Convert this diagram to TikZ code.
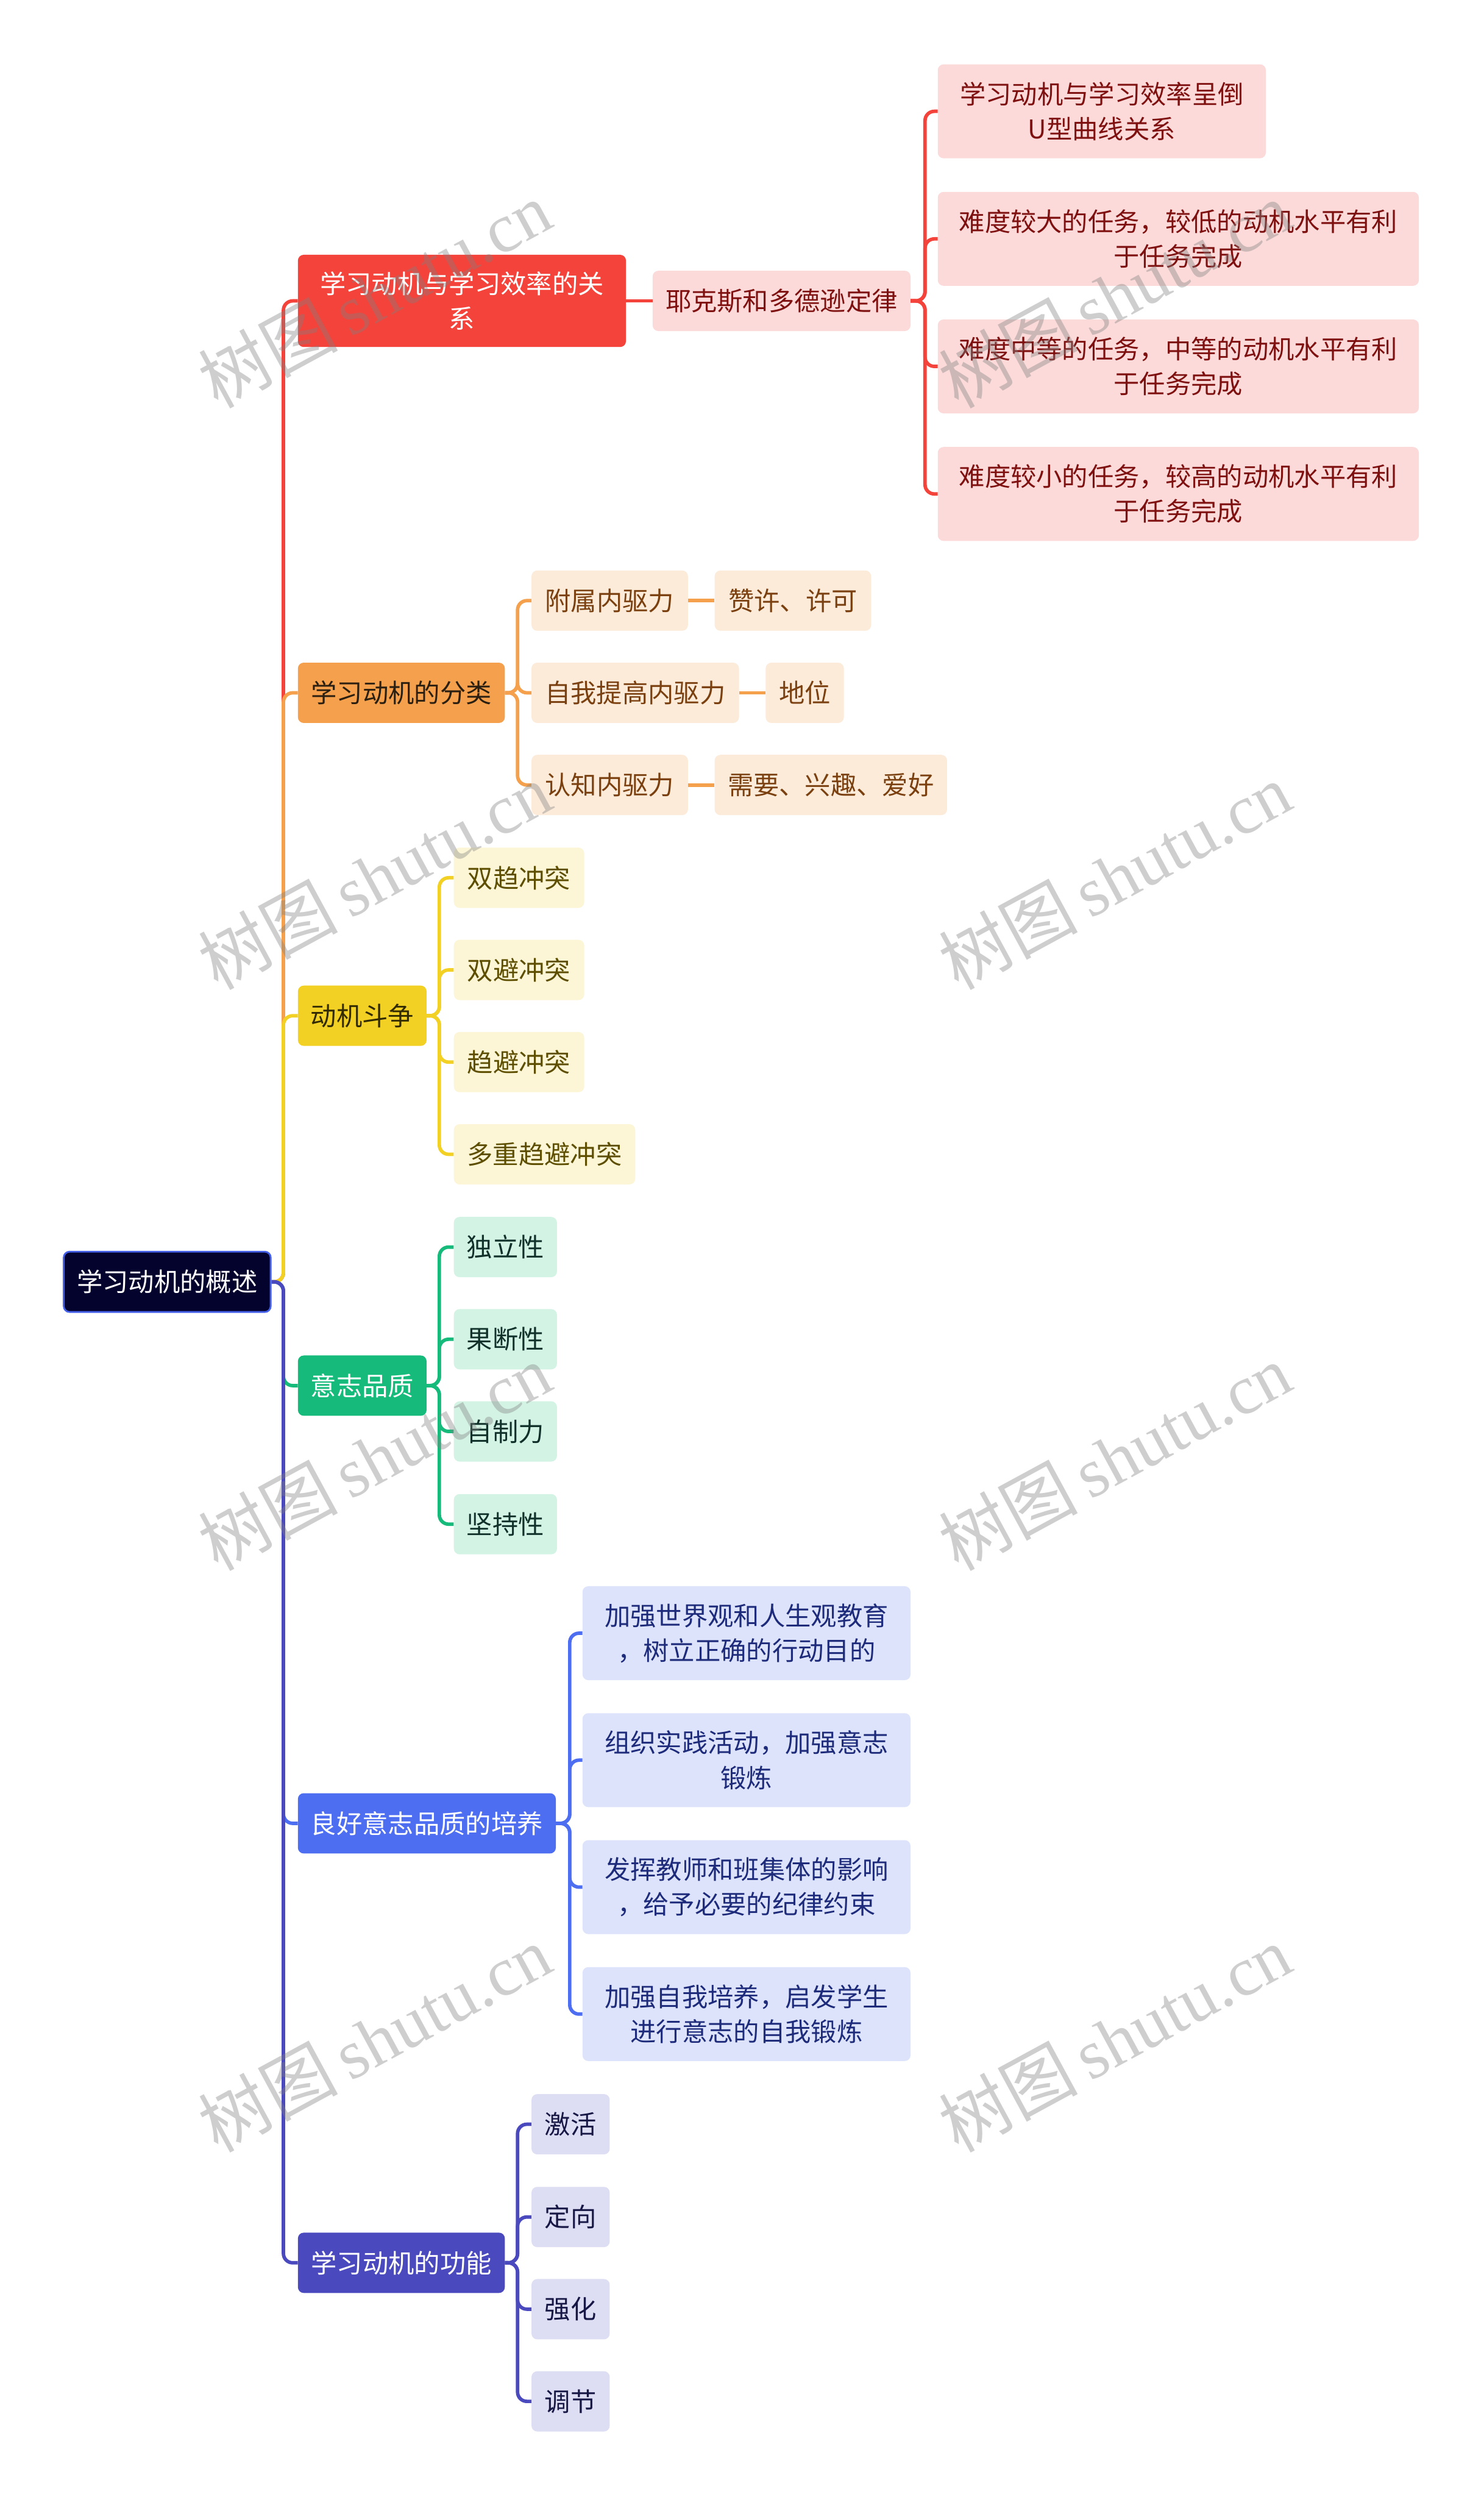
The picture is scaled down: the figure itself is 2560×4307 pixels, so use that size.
\documentclass[tikz,border=0pt]{standalone}
\usepackage{fontspec}
\newfontfamily\cjk{Noto Sans CJK SC}
\newfontfamily\wmserif{Liberation Serif}
\definecolor{cRed}{HTML}{F4433A}
\definecolor{cRedL}{HTML}{FCDADA}
\definecolor{cRedT}{HTML}{7F1010}
\definecolor{cOra}{HTML}{F4A04C}
\definecolor{cOraL}{HTML}{FDEBDA}
\definecolor{cOraT}{HTML}{7A4010}
\definecolor{cOraD}{HTML}{2A1F10}
\definecolor{cYel}{HTML}{F2D024}
\definecolor{cYelL}{HTML}{FCF6D6}
\definecolor{cYelT}{HTML}{5E4F00}
\definecolor{cYelD}{HTML}{332B00}
\definecolor{cGrn}{HTML}{16BB7B}
\definecolor{cGrnL}{HTML}{D3F3E5}
\definecolor{cGrnT}{HTML}{10302A}
\definecolor{cBlu}{HTML}{4E6EF2}
\definecolor{cBluL}{HTML}{DCE3FB}
\definecolor{cBluT}{HTML}{1D2B7A}
\definecolor{cInd}{HTML}{4B49BE}
\definecolor{cIndL}{HTML}{DDDDF3}
\definecolor{cIndT}{HTML}{171745}
\definecolor{cRoot}{HTML}{03032E}
\definecolor{cRootB}{HTML}{4460E8}
\tikzset{
  nd/.style={rounded corners=10pt, inner sep=0pt, align=center, font=\cjk\fontsize{44.5}{60}\selectfont},
  one/.style={nd, minimum height=104pt},
  two/.style={nd, minimum height=162pt},
  conn/.style={line width=6pt, rounded corners=16pt},
  wm/.style={rotate=28.5, text=gray, opacity=0.38, inner sep=0pt, font=\fontsize{120}{120}\selectfont},
}
\begin{document}
\begin{tikzpicture}[x=1pt,y=-1pt]
\fill[white] (0,0) rectangle (2560,4307);
\useasboundingbox (0,0) rectangle (2560,4307);

% root
\node[one, fill=cRoot, draw=cRootB, line width=3pt, text=white, minimum width=357pt] (root) at (288.5,2211) {学习动机的概述};

% level 1
\node[two, fill=cRed, text=white, minimum width=566pt, minimum height=159pt] (n1) at (797,519) {学习动机与学习效率的关\\系};
\node[one, fill=cOra, text=cOraD, minimum width=357pt] (n2) at (692.5,1195) {学习动机的分类};
\node[one, fill=cYel, text=cYelD, minimum width=222pt] (n3) at (625,1752) {动机斗争};
\node[one, fill=cGrn, text=white, minimum width=222pt] (n4) at (625,2390) {意志品质};
\node[one, fill=cBlu, text=white, minimum width=445pt] (n5) at (736.5,3145) {良好意志品质的培养};
\node[one, fill=cInd, text=white, minimum width=357pt] (n6) at (692.5,3903) {学习动机的功能};

% red branch
\node[one, fill=cRedL, text=cRedT, minimum width=445pt] (n1a) at (1348.5,519) {耶克斯和多德逊定律};
\node[two, fill=cRedL, text=cRedT, minimum width=566pt] (n1a1) at (1901,192) {学习动机与学习效率呈倒\\U型曲线关系};
\node[two, fill=cRedL, text=cRedT, minimum width=830pt] (n1a2) at (2033,412) {难度较大的任务，较低的动机水平有利\\于任务完成};
\node[two, fill=cRedL, text=cRedT, minimum width=830pt] (n1a3) at (2033,632) {难度中等的任务，中等的动机水平有利\\于任务完成};
\node[two, fill=cRedL, text=cRedT, minimum width=830pt] (n1a4) at (2033,852) {难度较小的任务，较高的动机水平有利\\于任务完成};

% orange branch
\node[one, fill=cOraL, text=cOraT, minimum width=270pt] (n2a) at (1052,1036) {附属内驱力};
\node[one, fill=cOraL, text=cOraT, minimum width=358pt] (n2b) at (1096,1195) {自我提高内驱力};
\node[one, fill=cOraL, text=cOraT, minimum width=270pt] (n2c) at (1052,1354) {认知内驱力};
\node[one, fill=cOraL, text=cOraT, minimum width=270pt] (n2a1) at (1368,1036) {赞许、许可};
\node[one, fill=cOraL, text=cOraT, minimum width=135pt] (n2b1) at (1388.5,1195) {地位};
\node[one, fill=cOraL, text=cOraT, minimum width=401pt] (n2c1) at (1433.5,1354) {需要、兴趣、爱好};

% yellow branch
\node[one, fill=cYelL, text=cYelT, minimum width=225pt] (n3a) at (895.5,1514) {双趋冲突};
\node[one, fill=cYelL, text=cYelT, minimum width=225pt] (n3b) at (895.5,1673) {双避冲突};
\node[one, fill=cYelL, text=cYelT, minimum width=225pt] (n3c) at (895.5,1832) {趋避冲突};
\node[one, fill=cYelL, text=cYelT, minimum width=313pt] (n3d) at (939.5,1991) {多重趋避冲突};

% green branch
\node[one, fill=cGrnL, text=cGrnT, minimum width=178pt] (n4a) at (872,2151) {独立性};
\node[one, fill=cGrnL, text=cGrnT, minimum width=178pt] (n4b) at (872,2310) {果断性};
\node[one, fill=cGrnL, text=cGrnT, minimum width=178pt] (n4c) at (872,2469) {自制力};
\node[one, fill=cGrnL, text=cGrnT, minimum width=178pt] (n4d) at (872,2629) {坚持性};

% blue branch
\node[two, fill=cBluL, text=cBluT, minimum width=566pt] (n5a) at (1288,2817) {加强世界观和人生观教育\\，树立正确的行动目的};
\node[two, fill=cBluL, text=cBluT, minimum width=566pt] (n5b) at (1288,3036) {组织实践活动，加强意志\\锻炼};
\node[two, fill=cBluL, text=cBluT, minimum width=566pt] (n5c) at (1288,3255) {发挥教师和班集体的影响\\，给予必要的纪律约束};
\node[two, fill=cBluL, text=cBluT, minimum width=566pt] (n5d) at (1288,3474) {加强自我培养，启发学生\\进行意志的自我锻炼};

% indigo branch
\node[one, fill=cIndL, text=cIndT, minimum width=135pt] (n6a) at (984.5,3664) {激活};
\node[one, fill=cIndL, text=cIndT, minimum width=135pt] (n6b) at (984.5,3824) {定向};
\node[one, fill=cIndL, text=cIndT, minimum width=135pt] (n6c) at (984.5,3983) {强化};
\node[one, fill=cIndL, text=cIndT, minimum width=135pt] (n6d) at (984.5,4142) {调节};

% trunk coordinates
\coordinate (t0) at (489,2211);
\coordinate (t1) at (1596,519);
\coordinate (t2) at (893,1195);
\coordinate (t3) at (758,1752);
\coordinate (t4) at (758,2390);
\coordinate (t5) at (983,3145);
\coordinate (t6) at (893,3903);

% root connectors
\draw[conn, cRed] (root.east) -- (t0) |- (n1.west);
\draw[conn, cOra] (root.east) -- (t0) |- (n2.west);
\draw[conn, cYel] (root.east) -- (t0) |- (n3.west);
\draw[conn, cGrn] (root.east) -- (t0) |- (n4.west);
\draw[conn, cBlu] (root.east) -- (t0) |- (n5.west);
\draw[conn, cInd] (root.east) -- (t0) |- (n6.west);

% red
\draw[conn, cRed] (n1.east) -- (n1a.west);
\foreach \c in {n1a1,n1a2,n1a3,n1a4} \draw[conn, cRed] (n1a.east) -- (t1) |- (\c.west);
% orange
\foreach \c in {n2a,n2b,n2c} \draw[conn, cOra] (n2.east) -- (t2) |- (\c.west);
\draw[conn, cOra] (n2a.east) -- (n2a1.west);
\draw[conn, cOra] (n2b.east) -- (n2b1.west);
\draw[conn, cOra] (n2c.east) -- (n2c1.west);
% yellow
\foreach \c in {n3a,n3b,n3c,n3d} \draw[conn, cYel] (n3.east) -- (t3) |- (\c.west);
% green
\foreach \c in {n4a,n4b,n4c,n4d} \draw[conn, cGrn] (n4.east) -- (t4) |- (\c.west);
% blue
\foreach \c in {n5a,n5b,n5c,n5d} \draw[conn, cBlu] (n5.east) -- (t5) |- (\c.west);
% indigo
\foreach \c in {n6a,n6b,n6c,n6d} \draw[conn, cInd] (n6.east) -- (t6) |- (\c.west);

% watermarks
\node[wm] (wm1) at (646,508) {\cjk 树图\,\wmserif shutu.cn};
\node[wm] (wm2) at (1923,508) {\cjk 树图\,\wmserif shutu.cn};
\node[wm] (wm3) at (646,1511) {\cjk 树图\,\wmserif shutu.cn};
\node[wm] (wm4) at (1923,1511) {\cjk 树图\,\wmserif shutu.cn};
\node[wm] (wm5) at (646,2513) {\cjk 树图\,\wmserif shutu.cn};
\node[wm] (wm6) at (1923,2513) {\cjk 树图\,\wmserif shutu.cn};
\node[wm] (wm7) at (646,3516) {\cjk 树图\,\wmserif shutu.cn};
\node[wm] (wm8) at (1923,3516) {\cjk 树图\,\wmserif shutu.cn};
\end{tikzpicture}
\end{document}
